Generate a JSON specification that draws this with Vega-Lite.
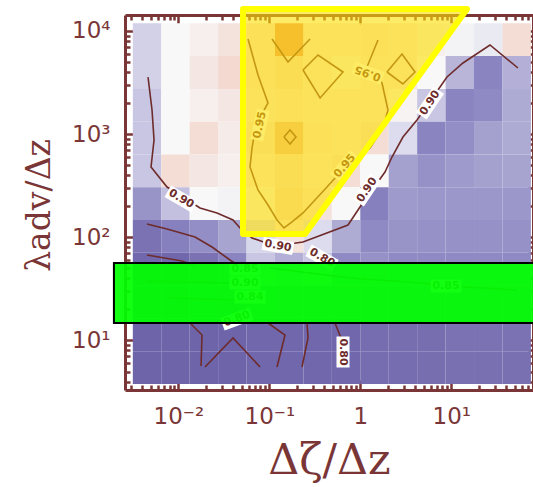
{
 "$schema": "https://vega.github.io/schema/vega-lite/v6.json",
 "width": 408, "height": 375,
 "autosize": {"type": "none"},
 "padding": {"left": 125, "top": 15, "right": 0, "bottom": 97},
 "background": "white",
 "config": {
  "view": {"stroke": null},
  "axis": {"grid": false, "domainColor": "#7a3636", "tickColor": "#7a3636", "labelColor": "#7a3636", "titleColor": "#7a3636", "domainWidth": 3, "tickWidth": 2.5, "labelFont": "DejaVu Sans", "labelFontSize": 23, "labelOverlap": false, "labelFlush": false, "titleFont": "DejaVu Serif", "titleFontWeight": "normal", "titleFontSize": 43}
 },
 "datasets": {
  "cols": [
   {"c": 0, "x0": 0.003162, "x1": 0.006494}, {"c": 1, "x0": 0.006494, "x1": 0.013335}, {"c": 2, "x0": 0.013335, "x1": 0.027384},
   {"c": 3, "x0": 0.027384, "x1": 0.056234}, {"c": 4, "x0": 0.056234, "x1": 0.115478}, {"c": 5, "x0": 0.115478, "x1": 0.237137},
   {"c": 6, "x0": 0.237137, "x1": 0.486968}, {"c": 7, "x0": 0.486968, "x1": 1.0}, {"c": 8, "x0": 1.0, "x1": 2.05353},
   {"c": 9, "x0": 2.05353, "x1": 4.21697}, {"c": 10, "x0": 4.21697, "x1": 8.65964}, {"c": 11, "x0": 8.65964, "x1": 17.7828},
   {"c": 12, "x0": 17.7828, "x1": 36.5174}, {"c": 13, "x0": 36.5174, "x1": 74.9894}
  ],
  "cells": [
   {"y0": 5700, "y1": 11847, "c": [0,1,2,3,4,5,6,7,8,9,10,11,12,13], "v": [0.89,0.93,0.94,0.955,0.955,0.99,0.95,0.95,0.955,0.95,0.94,0.925,0.915,0.96]},
   {"y0": 2742.6, "y1": 5700, "c": [0,1,2,3,4,5,6,7,8,9,10,11,12,13], "v": [0.89,0.93,0.95,0.965,0.955,0.965,0.95,0.94,0.95,0.95,0.93,0.865,0.80,0.86]},
   {"y0": 1319.6, "y1": 2742.6, "c": [0,1,2,3,4,5,6,7,8,9,10,11,12,13], "v": [0.88,0.93,0.94,0.95,0.95,0.955,0.95,0.95,0.95,0.935,0.88,0.80,0.81,0.855]},
   {"y0": 634.9, "y1": 1319.6, "c": [0,1,2,3,4,5,6,7,8,9,10,11,12,13], "v": [0.88,0.93,0.96,0.945,0.96,0.98,0.955,0.95,0.96,0.90,0.80,0.815,0.845,0.855]},
   {"y0": 305.4, "y1": 634.9, "c": [0,1,2,3,4,5,6,7,8,9,10,11,12,13], "v": [0.88,0.96,0.95,0.94,0.95,0.965,0.95,0.96,0.93,0.845,0.82,0.835,0.845,0.85]},
   {"y0": 146.96, "y1": 305.4, "c": [0,1,2,3,4,5,6,7,8,9,10,11,12,13], "v": [0.825,0.875,0.93,0.925,0.94,0.97,0.955,0.93,0.79,0.835,0.83,0.83,0.83,0.83]},
   {"y0": 70.71, "y1": 146.96, "c": [0,1,2,3,4,5,6,7,8,9,10,11,12,13], "v": [0.75,0.79,0.815,0.85,0.895,0.955,0.90,0.857,0.81,0.825,0.82,0.82,0.82,0.82]},
   {"y0": 34.02, "y1": 70.71, "c": [0,1,2,3,4,5,6,7,8,9,10,11,12,13], "v": [0.72,0.72,0.75,0.80,0.88,0.86,0.88,0.81,0.82,0.81,0.81,0.81,0.81,0.81]},
   {"y0": 16.368, "y1": 34.02, "c": [0,1,2,3,4,5,6,7,8,9,10,11,12,13], "v": [0.72,0.72,0.74,0.76,0.78,0.80,0.80,0.79,0.80,0.80,0.80,0.80,0.80,0.80]},
   {"y0": 7.874, "y1": 16.368, "c": [0,1,2,3,4,5,6,7,8,9,10,11,12,13], "v": [0.71,0.71,0.71,0.71,0.72,0.72,0.72,0.72,0.735,0.74,0.74,0.75,0.75,0.75]},
   {"y0": 3.789, "y1": 7.874, "c": [0,1,2,3,4,5,6,7,8,9,10,11,12,13], "v": [0.71,0.71,0.71,0.71,0.72,0.72,0.72,0.72,0.735,0.735,0.74,0.745,0.745,0.745]}
  ],
  "lines": [
   {"id":"A","o":1,"x":0.004645,"y":3573},{"id":"A","o":2,"x":0.00514,"y":1712},{"id":"A","o":3,"x":0.005408,"y":877},{"id":"A","o":4,"x":0.005012,"y":479.8},
   {"id":"A","o":5,"x":0.007516,"y":306.9},{"id":"A","o":6,"x":0.01731,"y":192.3},{"id":"A","o":7,"x":0.02662,"y":172},{"id":"A","o":8,"x":0.0399,"y":147.1},
   {"id":"A","o":9,"x":0.04764,"y":123.1},{"id":"A","o":10,"x":0.06457,"y":98.45},{"id":"A","o":11,"x":0.1155,"y":82.36},{"id":"A","o":12,"x":0.2346,"y":90.04},
   {"id":"A","o":13,"x":0.7325,"y":131.6},{"id":"A","o":14,"x":0.9924,"y":196.7},{"id":"A","o":15,"x":1.868,"y":429.3},{"id":"A","o":16,"x":2.23,"y":599.8},
   {"id":"A","o":17,"x":2.945,"y":937.2},{"id":"A","o":18,"x":4.2,"y":1369},{"id":"A","o":19,"x":8.969,"y":3575},{"id":"A","o":20,"x":13.45,"y":4887},
   {"id":"A","o":21,"x":26.63,"y":7303},{"id":"A","o":22,"x":54.08,"y":4371},
   {"id":"B","o":1,"x":0.05833,"y":8347},{"id":"B","o":2,"x":0.07511,"y":3738},{"id":"B","o":3,"x":0.09676,"y":2002},{"id":"B","o":4,"x":0.0714,"y":1225},
   {"id":"B","o":5,"x":0.06455,"y":733.4},{"id":"B","o":6,"x":0.06136,"y":479.8},{"id":"B","o":7,"x":0.07511,"y":287.2},{"id":"B","o":8,"x":0.09676,"y":205.6},
   {"id":"B","o":9,"x":0.1215,"y":147.1},{"id":"B","o":10,"x":0.145,"y":123.1},{"id":"B","o":11,"x":0.1776,"y":140.7},{"id":"B","o":12,"x":0.2346,"y":172},
   {"id":"B","o":13,"x":0.4305,"y":306.9},{"id":"B","o":14,"x":0.679,"y":479.8},{"id":"B","o":15,"x":1.278,"y":733.4},{"id":"B","o":16,"x":1.776,"y":1146},
   {"id":"B","o":17,"x":2.016,"y":1712},{"id":"B","o":18,"x":1.732,"y":3128},{"id":"B","o":19,"x":1.185,"y":4470},{"id":"B","o":20,"x":1.565,"y":8162},
   {"id":"D1","o":1,"x":0.2346,"y":4180},{"id":"D1","o":2,"x":0.3428,"y":5842},{"id":"D1","o":3,"x":0.6455,"y":3997},{"id":"D1","o":4,"x":0.3617,"y":2238},{"id":"D1","o":5,"x":0.2346,"y":4180},
   {"id":"D2","o":1,"x":1.965,"y":3997},{"id":"D2","o":2,"x":2.872,"y":5974},{"id":"D2","o":3,"x":3.992,"y":3997},{"id":"D2","o":4,"x":2.938,"y":3058},{"id":"D2","o":5,"x":1.965,"y":3997},
   {"id":"D3","o":1,"x":0.145,"y":937.5},{"id":"D3","o":2,"x":0.1689,"y":1096},{"id":"D3","o":3,"x":0.1965,"y":937.5},{"id":"D3","o":4,"x":0.1689,"y":802},{"id":"D3","o":5,"x":0.145,"y":937.5},
   {"id":"V","o":1,"x":0.107,"y":8347},{"id":"V","o":2,"x":0.1605,"y":4996},{"id":"V","o":3,"x":0.2802,"y":8347},
   {"id":"E1","o":1,"x":0.004529,"y":134.5},{"id":"E1","o":2,"x":0.007511,"y":120.3},{"id":"E1","o":3,"x":0.01526,"y":100.7},{"id":"E1","o":4,"x":0.02346,"y":80.54},{"id":"E1","o":5,"x":0.03699,"y":60.26},{"id":"E1","o":6,"x":0.05407,"y":48.21},
   {"id":"E2","o":1,"x":0.004529,"y":67.37},{"id":"E2","o":2,"x":0.01098,"y":58.92},{"id":"E2","o":3,"x":0.01526,"y":52.7},
   {"id":"G1","o":1,"x":0.1018,"y":50.41},{"id":"G1","o":2,"x":0.7703,"y":40.33},{"id":"G1","o":3,"x":3.26,"y":36.89},{"id":"G1","o":4,"x":14.88,"y":32.99},{"id":"G1","o":5,"x":52.72,"y":30.85},
   {"id":"G2","o":1,"x":0.004529,"y":37.73},{"id":"G2","o":2,"x":0.03699,"y":36.07},
   {"id":"G3","o":1,"x":0.0081,"y":25.81},{"id":"G3","o":2,"x":0.04764,"y":24.69},
   {"id":"H1","o":1,"x":0.01345,"y":14.78},{"id":"H1","o":2,"x":0.01822,"y":11.31},{"id":"H1","o":3,"x":0.01776,"y":5.66},
   {"id":"V2","o":1,"x":0.01965,"y":5.536},{"id":"V2","o":2,"x":0.03991,"y":10.57},{"id":"V2","o":3,"x":0.07902,"y":5.536},
   {"id":"H3","o":1,"x":0.09676,"y":14.78},{"id":"H3","o":2,"x":0.1488,"y":11.31},{"id":"H3","o":3,"x":0.1215,"y":5.536},
   {"id":"H4","o":1,"x":0.2597,"y":14.78},{"id":"H4","o":2,"x":0.2663,"y":10.57},{"id":"H4","o":3,"x":0.2287,"y":5.536},
   {"id":"H5","o":1,"x":0.5272,"y":14.78},{"id":"H5","o":2,"x":0.6137,"y":10.57},{"id":"H5","o":3,"x":0.6455,"y":7.737}
  ],
  "labels": [
   {"x":0.01076,"y":235,"t":"0.90","a":30},
   {"x":1.188,"y":287.2,"t":"0.90","a":-56},
   {"x":5.834,"y":2002,"t":"0.90","a":-56},
   {"x":0.1246,"y":82.36,"t":"0.90","a":10},
   {"x":0.07902,"y":1225,"t":"0.95","a":-78},
   {"x":1.215,"y":3908,"t":"0.95","a":200},
   {"x":0.679,"y":490.9,"t":"0.95","a":-50},
   {"x":0.6455,"y":7.737,"t":"0.80","a":90},
   {"x":0.3794,"y":63,"t":"0.80","a":30},
   {"x":8.745,"y":33.74,"t":"0.85","a":0},
   {"x":0.05407,"y":49.3,"t":"0.85","a":0},
   {"x":0.05407,"y":36.07,"t":"0.90","a":0},
   {"x":0.06136,"y":26.39,"t":"0.84","a":0},
   {"x":0.04417,"y":16.16,"t":"0.80","a":-20}
  ],
  "tri": [
   {"x":0.0514,"y":16300,"y2":107.6},
   {"x":0.2468,"y":16300,"y2":107.6},
   {"x":14.88,"y":16300,"y2":16300}
  ],
  "band": [
   {"x":0.00196,"x2":90,"y":14.78,"y2":56.36}
  ]
 },
 "layer": [
  {
   "data": {"name": "cells"},
   "transform": [
    {"flatten": ["c", "v"]},
    {"lookup": "c", "from": {"data": {"name": "cols"}, "key": "c", "fields": ["x0", "x1"]}}
   ],
   "mark": {"type": "rect"},
   "encoding": {
    "x": {"field": "x0", "type": "quantitative", "scale": {"type": "log", "domain": [0.002594, 79.1], "nice": false},
      "axis": {"orient": "bottom", "values": [0.01, 0.1, 1, 10], "labelExpr": "datum.value < 0.05 ? '10⁻²' : datum.value < 0.5 ? '10⁻¹' : datum.value < 5 ? '1' : '10¹'", "ticks": false, "labelPadding": 15, "title": "Δζ/Δz", "titleY": 83, "titleBaseline": "alphabetic"}},
    "x2": {"field": "x1"},
    "y": {"field": "y0", "type": "quantitative", "scale": {"type": "log", "domain": [3.313, 14262], "nice": false},
      "axis": {"orient": "left", "values": [10, 100, 1000, 10000], "labelExpr": "datum.value < 50 ? '10¹' : datum.value < 500 ? '10²' : datum.value < 5000 ? '10³' : '10⁴'", "ticks": false, "labelPadding": 15, "title": "λadv/Δz", "titleX": -86, "titleY": 190, "titleAngle": -90, "titleBaseline": "middle", "titleAlign": "center", "titleFontSize": 33}},
    "y2": {"field": "y1"},
    "color": {"field": "v", "type": "quantitative", "legend": null,
      "scale": {"domain": [0.70, 0.75, 0.80, 0.85, 0.88, 0.90, 0.93, 0.95, 0.97, 1.0], "range": ["#6a60a8", "#7a72b2", "#8a84c1", "#a8a4d0", "#c8c6e2", "#dcdcee", "#f8f8f8", "#f4e6e2", "#f2d4c8", "#e07040"], "interpolate": "rgb"}}
   }
  },
  {
   "data": {"name": "lines"},
   "mark": {"type": "line", "stroke": "#6e2b2b", "strokeWidth": 1.6},
   "encoding": {
    "x": {"field": "x", "type": "quantitative", "scale": {"type": "log", "domain": [0.002594, 79.1], "nice": false},
      "axis": {"orient": "bottom", "values": [0.01, 0.1, 1, 10], "labels": false, "domain": false, "tickSize": -10, "title": null}},
    "y": {"field": "y", "type": "quantitative", "scale": {"type": "log", "domain": [3.313, 14262], "nice": false},
      "axis": {"orient": "left", "values": [10, 100, 1000, 10000], "labels": false, "domain": false, "tickSize": -10, "title": null}},
    "detail": {"field": "id"},
    "order": {"field": "o"}
   }
  },
  {
   "data": {"name": "labels"},
   "mark": {"type": "point", "shape": "M-1,-0.42L1,-0.42L1,0.42L-1,0.42Z", "size": 961, "filled": true, "fill": "white", "opacity": 1, "strokeWidth": 0},
   "encoding": {
    "x": {"field": "x", "type": "quantitative", "scale": {"type": "log", "domain": [0.002594, 79.1], "nice": false},
      "axis": {"orient": "bottom", "values": [0.003,0.004,0.005,0.006,0.007,0.008,0.009,0.02,0.03,0.04,0.05,0.06,0.07,0.08,0.09,0.2,0.3,0.4,0.5,0.6,0.7,0.8,0.9,2,3,4,5,6,7,8,9,20,30,40,50,60,70], "labels": false, "domain": false, "tickSize": -5, "title": null}},
    "y": {"field": "y", "type": "quantitative", "scale": {"type": "log", "domain": [3.313, 14262], "nice": false},
      "axis": {"orient": "left", "values": [4,5,6,7,8,9,20,30,40,50,60,70,80,90,200,300,400,500,600,700,800,900,2000,3000,4000,5000,6000,7000,8000,9000], "labels": false, "domain": false, "tickSize": -5, "title": null}},
    "angle": {"field": "a", "type": "quantitative", "scale": null}
   }
  },
  {
   "data": {"name": "labels"},
   "mark": {"type": "text", "font": "DejaVu Sans", "fontSize": 11, "fontWeight": "bold", "fill": "#6e2b2b", "align": "center", "baseline": "middle"},
   "encoding": {
    "x": {"field": "x", "type": "quantitative", "scale": {"type": "log", "domain": [0.002594, 79.1], "nice": false},
      "axis": {"orient": "top", "values": [0.01, 0.1, 1, 10], "labels": false, "tickSize": -10, "title": null}},
    "y": {"field": "y", "type": "quantitative", "scale": {"type": "log", "domain": [3.313, 14262], "nice": false},
      "axis": {"orient": "right", "values": [10, 100, 1000, 10000], "labels": false, "tickSize": -10, "title": null}},
    "text": {"field": "t"},
    "angle": {"field": "a", "type": "quantitative", "scale": null}
   }
  },
  {
   "data": {"name": "tri"},
   "mark": {"type": "area", "fill": "#ffe000", "fillOpacity": 0.6, "stroke": "#ffff00", "strokeWidth": 6, "strokeOpacity": 1, "strokeJoin": "round", "clip": false},
   "encoding": {
    "x": {"field": "x", "type": "quantitative", "scale": {"type": "log", "domain": [0.002594, 79.1], "nice": false},
      "axis": {"orient": "top", "values": [0.003,0.004,0.005,0.006,0.007,0.008,0.009,0.02,0.03,0.04,0.05,0.06,0.07,0.08,0.09,0.2,0.3,0.4,0.5,0.6,0.7,0.8,0.9,2,3,4,5,6,7,8,9,20,30,40,50,60,70], "labels": false, "domain": false, "tickSize": -5, "title": null}},
    "y": {"field": "y", "type": "quantitative", "stack": null, "scale": {"type": "log", "domain": [3.313, 14262], "nice": false},
      "axis": {"orient": "right", "values": [4,5,6,7,8,9,20,30,40,50,60,70,80,90,200,300,400,500,600,700,800,900,2000,3000,4000,5000,6000,7000,8000,9000], "labels": false, "domain": false, "tickSize": -5, "title": null}},
    "y2": {"field": "y2"}
   }
  },
  {
   "data": {"name": "band"},
   "mark": {"type": "rect", "fill": "#00ff00", "fillOpacity": 0.93, "stroke": "#000000", "strokeWidth": 2, "clip": false},
   "encoding": {
    "x": {"field": "x", "type": "quantitative", "scale": {"type": "log", "domain": [0.002594, 79.1], "nice": false}, "axis": null},
    "x2": {"field": "x2"},
    "y": {"field": "y", "type": "quantitative", "scale": {"type": "log", "domain": [3.313, 14262], "nice": false}, "axis": null},
    "y2": {"field": "y2"}
   }
  }
 ],
 "resolve": {"axis": {"x": "independent", "y": "independent"}}
}
